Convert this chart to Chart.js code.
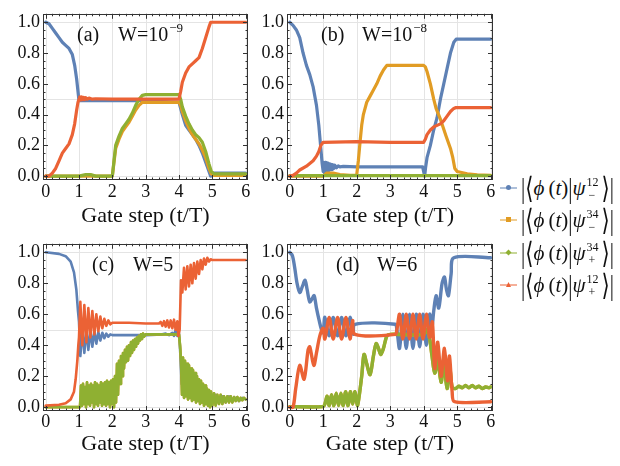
<!DOCTYPE html>
<html>
<head>
<meta charset="utf-8">
<script src="https://cdn.jsdelivr.net/npm/chart.js@4.4.1/dist/chart.umd.min.js"></script>
<style>
  body { margin: 0; background: #fff; width: 620px; height: 466px; overflow: hidden; position: relative;
         font-family: "Liberation Serif", "DejaVu Serif", serif; }
  canvas { position: absolute; }
  .entry { position: absolute; left: 498px; height: 30px; white-space: nowrap; font-size: 21px; color: #111; }
  .sample { position: absolute; left: 2px; top: 14px; width: 17px; height: 1.5px; opacity: 0.5; }
  .mark { position: absolute; width: 5px; height: 5px; left: 8px; top: 12px; }
  .txt { position: absolute; left: 23px; top: 0; line-height: 30px; }
  .dl { display: inline-block; transform: scaleY(1.4); }
  .ss { display: inline-block; position: relative; width: 16px; height: 20px; }
  .ss span { position: absolute; left: 1px; font-size: 12px; line-height: 12px; }
  .ss .u { top: 1px; }
  .ss .d { top: 14px; left: 3px; }
</style>
</head>
<body>
<canvas id="pa" width="255" height="230" style="left:0;top:0"></canvas>
<canvas id="pb" width="256" height="230" style="left:244px;top:0"></canvas>
<canvas id="pc" width="255" height="236" style="left:0;top:230px"></canvas>
<canvas id="pd" width="256" height="236" style="left:244px;top:230px"></canvas>
<div id="legend"></div>
<script>
const blue = "#5E81B5", orange = "#E19C24", green = "#8FB032", red = "#EB6235";
const serif = "'Liberation Serif', 'DejaVu Serif', serif";

const xTicks = [0, 1, 2, 3, 4, 5, 6];
const yTicks = [0, 0.2, 0.4, 0.6, 0.8, 1.0];
const xGrid = [0, 1, 2, 3, 4, 5, 6];
const yGrid = [0, 0.5, 1.0];
const xLabel = "Gate step (t/T)";

const panelTags = ["(a)", "(b)", "(c)", "(d)"];
const panelW = ["W=10", "W=10", "W=5", "W=6"];
const panelSup = ["\u22129", "\u22128", "", ""];

// ---- panel (a) W=1e-9
const aBlue = [[0,1.0],[0.1,0.99],[0.2,0.96],[0.3,0.93],[0.4,0.9],[0.5,0.87],[0.6,0.85],[0.7,0.83],[0.8,0.79],[0.87,0.72],[0.93,0.63],[0.97,0.55],[1.0,0.49],[1.5,0.49],[2.0,0.49],[3.0,0.49],[4.0,0.48],[4.1,0.4],[4.2,0.33],[4.3,0.3],[4.4,0.27],[4.5,0.24],[4.6,0.2],[4.7,0.15],[4.8,0.09],[4.9,0.03],[4.95,0.0],[5.0,0.02],[6.0,0.02]];
const aOrange = [[0,0.0],[2.0,0.0],[2.05,0.09],[2.1,0.18],[2.2,0.24],[2.3,0.29],[2.4,0.32],[2.5,0.35],[2.6,0.39],[2.7,0.43],[2.8,0.46],[2.9,0.48],[3.0,0.48],[4.0,0.48],[4.05,0.46],[4.1,0.42],[4.2,0.36],[4.3,0.31],[4.4,0.27],[4.5,0.24],[4.6,0.21],[4.7,0.17],[4.8,0.12],[4.9,0.05],[4.97,0.015],[5.05,0.005],[6.0,0.005]];
const aGreen = [[0,0.0],[1.0,0.0],[1.2,0.01],[1.35,0.01],[1.5,0.0],[2.0,0.0],[2.05,0.1],[2.1,0.2],[2.2,0.26],[2.3,0.31],[2.4,0.34],[2.5,0.37],[2.6,0.41],[2.7,0.46],[2.8,0.5],[2.9,0.525],[3.0,0.53],[4.0,0.53],[4.05,0.5],[4.1,0.45],[4.2,0.39],[4.3,0.34],[4.4,0.3],[4.5,0.27],[4.6,0.25],[4.7,0.22],[4.8,0.16],[4.9,0.08],[4.97,0.03],[5.05,0.015],[6.0,0.015]];
const aRed = [[0,0.0],[0.1,0.0],[0.2,0.02],[0.3,0.05],[0.4,0.1],[0.5,0.15],[0.6,0.18],[0.7,0.21],[0.8,0.27],[0.87,0.34],[0.93,0.43],[0.97,0.48],[1.0,0.5],[1.02,0.515],[1.05,0.495],[1.08,0.515],[1.11,0.497],[1.14,0.512],[1.17,0.498],[1.2,0.51],[1.25,0.5],[1.3,0.507],[1.4,0.5],[1.5,0.503],[2.0,0.5],[3.0,0.5],[4.0,0.5],[4.05,0.55],[4.1,0.61],[4.2,0.67],[4.3,0.71],[4.4,0.73],[4.5,0.75],[4.6,0.77],[4.7,0.83],[4.8,0.9],[4.9,0.97],[4.95,1.0],[6.0,1.0]];

// ---- panel (b) W=1e-8
const bBlue = [[0,1.0],[0.1,0.98],[0.2,0.95],[0.3,0.9],[0.4,0.8],[0.5,0.72],[0.6,0.66],[0.7,0.58],[0.8,0.46],[0.87,0.33],[0.93,0.18],[0.97,0.08],[1.0,0.03],[1.02,0.09],[1.04,0.02],[1.06,0.09],[1.08,0.025],[1.1,0.088],[1.12,0.03],[1.14,0.085],[1.16,0.035],[1.18,0.08],[1.2,0.04],[1.22,0.078],[1.24,0.042],[1.26,0.075],[1.28,0.045],[1.3,0.072],[1.32,0.05],[1.35,0.07],[1.4,0.055],[1.45,0.066],[1.5,0.06],[1.6,0.063],[2.0,0.06],[3.0,0.06],[3.97,0.06],[4.0,0.03],[4.03,0.0],[4.06,0.06],[4.1,0.12],[4.2,0.2],[4.3,0.3],[4.4,0.38],[4.5,0.5],[4.6,0.6],[4.7,0.7],[4.8,0.8],[4.9,0.87],[4.97,0.89],[6.0,0.89]];
const bOrange = [[0,0.0],[1.0,0.0],[1.1,0.02],[1.3,0.02],[1.5,0.01],[1.8,0.005],[2.0,0.005],[2.05,0.1],[2.1,0.22],[2.15,0.33],[2.2,0.4],[2.3,0.48],[2.4,0.52],[2.5,0.56],[2.6,0.6],[2.7,0.65],[2.8,0.69],[2.9,0.72],[3.0,0.72],[4.0,0.72],[4.05,0.71],[4.1,0.68],[4.2,0.6],[4.3,0.5],[4.37,0.44],[4.5,0.37],[4.67,0.26],[4.8,0.18],[4.87,0.12],[4.93,0.05],[5.0,0.03],[5.1,0.025],[5.3,0.015],[5.6,0.008],[6.0,0.005]];
const bGreen = [[0,0.003],[6.0,0.003]];
const bRed = [[0,0.0],[0.1,0.005],[0.2,0.02],[0.3,0.04],[0.5,0.065],[0.7,0.1],[0.8,0.13],[0.87,0.16],[0.93,0.2],[1.0,0.22],[2.0,0.225],[3.0,0.22],[4.0,0.22],[4.05,0.24],[4.1,0.27],[4.2,0.3],[4.3,0.32],[4.4,0.33],[4.5,0.34],[4.6,0.36],[4.7,0.39],[4.8,0.42],[4.9,0.44],[4.95,0.445],[6.0,0.445]];

// ---- panel (c) W=5
const cBlue = [[0,1.0],[0.4,0.99],[0.6,0.975],[0.75,0.94],[0.85,0.87],[0.92,0.76],[0.97,0.62],[1.0,0.55],[1.04,0.33],[1.1,0.5],[1.16,0.35],[1.22,0.5],[1.28,0.37],[1.34,0.495],[1.4,0.39],[1.46,0.49],[1.52,0.41],[1.58,0.485],[1.64,0.43],[1.7,0.48],[1.76,0.445],[1.82,0.475],[1.88,0.455],[1.94,0.47],[2.0,0.465],[3.0,0.465],[3.5,0.47],[3.6,0.475],[3.7,0.465],[3.8,0.48],[3.85,0.46],[3.9,0.5],[3.95,0.46],[3.98,0.52],[4.02,0.42],[4.05,0.3],[4.08,0.15],[4.11,0.28],[4.14,0.1],[4.17,0.26],[4.2,0.12],[4.23,0.25],[4.26,0.1],[4.29,0.22],[4.32,0.08],[4.35,0.2],[4.38,0.07],[4.41,0.18],[4.44,0.06],[4.47,0.16],[4.5,0.05],[4.55,0.14],[4.6,0.04],[4.65,0.12],[4.7,0.04],[4.75,0.11],[4.8,0.03],[4.85,0.1],[4.9,0.03],[4.95,0.09],[5.0,0.03],[5.1,0.08],[5.2,0.03],[5.3,0.07],[5.4,0.03],[5.5,0.07],[5.6,0.04],[5.7,0.06],[5.8,0.04],[5.9,0.06],[6.0,0.05]];
const cGreen = [[0,0.0],[1.0,0.0],[1.03,0.0],[1.06,0.14],[1.09,0.01],[1.12,0.15],[1.15,0.02],[1.18,0.13],[1.21,0.0],[1.24,0.16],[1.27,0.02],[1.3,0.14],[1.33,0.01],[1.36,0.15],[1.39,0.03],[1.42,0.14],[1.45,0.0],[1.48,0.16],[1.51,0.02],[1.54,0.15],[1.57,0.01],[1.6,0.14],[1.63,0.03],[1.66,0.16],[1.69,0.01],[1.72,0.15],[1.75,0.02],[1.78,0.16],[1.81,0.01],[1.84,0.17],[1.87,0.02],[1.9,0.16],[1.93,0.0],[1.96,0.17],[1.99,0.02],[2.02,0.18],[2.05,0.0],[2.08,0.2],[2.11,0.03],[2.14,0.28],[2.17,0.08],[2.2,0.3],[2.23,0.15],[2.26,0.33],[2.29,0.2],[2.32,0.35],[2.35,0.25],[2.38,0.37],[2.41,0.29],[2.44,0.39],[2.47,0.3],[2.5,0.4],[2.53,0.33],[2.56,0.42],[2.59,0.35],[2.62,0.43],[2.65,0.37],[2.68,0.44],[2.71,0.39],[2.74,0.45],[2.77,0.41],[2.8,0.46],[2.83,0.43],[2.86,0.47],[2.89,0.44],[2.92,0.475],[2.95,0.455],[3.0,0.47],[3.5,0.47],[4.0,0.47],[4.03,0.4],[4.06,0.3],[4.09,0.08],[4.12,0.32],[4.15,0.06],[4.18,0.3],[4.21,0.07],[4.24,0.28],[4.27,0.05],[4.3,0.27],[4.33,0.06],[4.36,0.25],[4.39,0.04],[4.42,0.24],[4.45,0.05],[4.48,0.22],[4.51,0.03],[4.54,0.2],[4.57,0.04],[4.6,0.18],[4.63,0.02],[4.66,0.17],[4.69,0.03],[4.72,0.15],[4.75,0.01],[4.78,0.14],[4.81,0.02],[4.84,0.12],[4.87,0.01],[4.9,0.11],[4.93,0.0],[4.96,0.1],[5.0,0.01],[5.05,0.09],[5.1,0.01],[5.15,0.08],[5.2,0.02],[5.25,0.08],[5.3,0.02],[5.35,0.07],[5.4,0.03],[5.45,0.07],[5.5,0.03],[5.55,0.07],[5.6,0.03],[5.65,0.065],[5.7,0.04],[5.75,0.065],[5.8,0.04],[5.85,0.06],[5.9,0.045],[5.95,0.06],[6.0,0.05]];
const cOrange = cGreen; // hidden under the green curve in the figure
const cRed = [[0,0.01],[0.4,0.015],[0.6,0.025],[0.75,0.05],[0.85,0.1],[0.9,0.18],[0.95,0.3],[0.98,0.4],[1.0,0.45],[1.04,0.68],[1.1,0.4],[1.16,0.66],[1.22,0.42],[1.28,0.64],[1.34,0.45],[1.4,0.62],[1.46,0.47],[1.52,0.6],[1.58,0.49],[1.64,0.585],[1.7,0.51],[1.76,0.57],[1.82,0.525],[1.88,0.56],[1.94,0.535],[2.0,0.545],[2.5,0.545],[3.0,0.54],[3.4,0.54],[3.45,0.55],[3.5,0.525],[3.55,0.555],[3.6,0.52],[3.65,0.56],[3.7,0.515],[3.75,0.56],[3.8,0.51],[3.85,0.565],[3.9,0.5],[3.95,0.555],[3.98,0.46],[4.02,0.5],[4.06,0.82],[4.1,0.74],[4.15,0.9],[4.2,0.76],[4.25,0.91],[4.3,0.78],[4.35,0.92],[4.4,0.8],[4.45,0.93],[4.5,0.83],[4.55,0.94],[4.6,0.86],[4.65,0.95],[4.7,0.89],[4.75,0.96],[4.8,0.92],[4.85,0.965],[4.9,0.94],[4.95,0.955],[5.0,0.95],[6.0,0.95]];

// ---- panel (d) W=6
const dBlue = [[0,1.0],[0.08,0.98],[0.15,0.9],[0.22,0.8],[0.3,0.74],[0.38,0.78],[0.46,0.82],[0.52,0.76],[0.6,0.68],[0.67,0.7],[0.73,0.72],[0.8,0.64],[0.88,0.56],[0.95,0.5],[1.0,0.48],[1.05,0.58],[1.18,0.46],[1.3,0.58],[1.43,0.46],[1.55,0.58],[1.68,0.46],[1.8,0.58],[1.9,0.47],[1.95,0.535],[3.15,0.535],[3.2,0.5],[3.28,0.38],[3.38,0.6],[3.48,0.38],[3.58,0.6],[3.68,0.38],[3.78,0.6],[3.88,0.39],[3.98,0.6],[4.08,0.4],[4.18,0.6],[4.24,0.5],[4.3,0.62],[4.37,0.72],[4.45,0.64],[4.55,0.8],[4.62,0.84],[4.68,0.76],[4.74,0.72],[4.82,0.86],[4.9,0.965],[6.0,0.965]];
const dGreen = [[0,0.003],[1.0,0.003],[1.05,0.02],[1.12,0.07],[1.18,0.01],[1.25,0.08],[1.32,0.01],[1.39,0.09],[1.46,0.01],[1.53,0.09],[1.6,0.01],[1.67,0.1],[1.74,0.01],[1.81,0.1],[1.88,0.02],[1.95,0.1],[2.02,0.01],[2.08,0.08],[2.15,0.2],[2.22,0.34],[2.3,0.28],[2.4,0.21],[2.5,0.33],[2.58,0.41],[2.65,0.38],[2.72,0.34],[2.8,0.38],[2.9,0.46],[3.0,0.47],[4.0,0.47],[4.1,0.5],[4.18,0.44],[4.25,0.33],[4.33,0.22],[4.42,0.3],[4.52,0.16],[4.6,0.28],[4.7,0.12],[4.78,0.25],[4.85,0.13],[4.95,0.12],[5.05,0.135],[5.15,0.125],[5.25,0.14],[5.35,0.125],[5.45,0.14],[5.55,0.125],[5.65,0.135],[5.75,0.12],[5.85,0.13],[5.95,0.125],[6.0,0.13]];
const dOrange = dGreen; // hidden under the green curve in the figure
const dRed = [[0,0.0],[0.1,0.0],[0.18,0.12],[0.3,0.27],[0.43,0.18],[0.55,0.37],[0.6,0.39],[0.72,0.27],[0.8,0.35],[0.9,0.46],[1.0,0.51],[1.05,0.44],[1.18,0.58],[1.3,0.44],[1.43,0.58],[1.55,0.44],[1.68,0.58],[1.8,0.44],[1.88,0.56],[1.95,0.47],[3.15,0.47],[3.2,0.5],[3.28,0.6],[3.38,0.44],[3.48,0.6],[3.58,0.44],[3.68,0.6],[3.78,0.44],[3.88,0.6],[3.98,0.44],[4.08,0.6],[4.18,0.45],[4.26,0.55],[4.33,0.25],[4.42,0.42],[4.52,0.2],[4.62,0.38],[4.71,0.17],[4.77,0.33],[4.85,0.1],[4.92,0.035],[6.0,0.035]];

// legend
const legendSup = ["12", "34", "34", "12"];
const legendSub = ["\u2212", "\u2212", "+", "+"];
const legendColors = [blue, orange, green, red];
const legendShapes = ["circle", "square", "diamond", "triangle"];
const legendTops = [173, 205, 238, 270];

const framePlugin = {
  id: "frame",
  beforeDatasetsDraw(chart) {
    const { ctx, chartArea: a, scales: { x, y } } = chart;
    ctx.save();
    ctx.strokeStyle = "#e4e4e4";
    ctx.lineWidth = 1;
    ctx.beginPath();
    xGrid.forEach(v => {
      const p = Math.round(x.getPixelForValue(v)) + 0.5;
      ctx.moveTo(p, a.top); ctx.lineTo(p, a.bottom);
    });
    yGrid.forEach(v => {
      const p = Math.round(y.getPixelForValue(v)) + 0.5;
      ctx.moveTo(a.left, p); ctx.lineTo(a.right, p);
    });
    ctx.stroke();
    ctx.restore();
  },
  afterDatasetsDraw(chart, args, opts) {
    const { ctx, chartArea: a, scales: { x, y } } = chart;
    ctx.save();
    ctx.strokeStyle = "#333";
    ctx.lineWidth = 1;
    ctx.strokeRect(Math.round(a.left) + 0.5, Math.round(a.top) + 0.5,
                   Math.round(a.right - a.left) - 1, Math.round(a.bottom - a.top) - 1);
    ctx.beginPath();
    for (let i = 0; i <= 30; i++) {
      const v = i * 0.2, len = i % 5 === 0 ? 5 : 2.5;
      const p = Math.round(x.getPixelForValue(v)) + 0.5;
      ctx.moveTo(p, a.bottom); ctx.lineTo(p, a.bottom - len);
      ctx.moveTo(p, a.top); ctx.lineTo(p, a.top + len);
    }
    for (let i = 0; i <= 20; i++) {
      const v = i * 0.05, len = i % 4 === 0 ? 5 : 2.5;
      const p = Math.round(y.getPixelForValue(v)) + 0.5;
      ctx.moveTo(a.left, p); ctx.lineTo(a.left + len, p);
      ctx.moveTo(a.right, p); ctx.lineTo(a.right - len, p);
    }
    ctx.stroke();
    // panel label
    ctx.fillStyle = "#111";
    ctx.textBaseline = "alphabetic";
    ctx.font = "20px " + serif;
    const bx = a.left + opts.offset, by = a.top + 27;
    ctx.fillText(opts.tag, bx, by);
    ctx.fillText(opts.w, bx + 41, by);
    if (opts.sup) {
      const w = ctx.measureText(opts.w).width;
      ctx.font = "13px " + serif;
      ctx.fillText(opts.sup, bx + 41 + w + 1, by - 9);
    }
    ctx.restore();
  }
};

function series(data, color, order, width, smooth) {
  return {
    data: data.map(p => ({ x: p[0], y: p[1] })),
    borderColor: color,
    backgroundColor: color,
    borderWidth: width,
    borderJoinStyle: "round",
    borderCapStyle: "round",
    pointRadius: 0,
    tension: smooth ? 0.3 : 0,
    order: order
  };
}

function makePanel(id, sets, idx, offset, xHeight, tickPad, titleBottom, width, smooth) {
  const datasets = sets.map(s => series(s[0], s[1], s[2], width, smooth));
  new Chart(document.getElementById(id), {
    type: "line",
    data: { datasets },
    plugins: [framePlugin],
    options: {
      responsive: false,
      animation: false,
      layout: { padding: { top: 4, right: 7, left: 0, bottom: 0 } },
      plugins: {
        legend: { display: false },
        tooltip: { enabled: false },
        frame: { tag: panelTags[idx], w: panelW[idx], sup: panelSup[idx], offset: offset }
      },
      scales: {
        x: {
          type: "linear", min: -0.08, max: 6.07,
          grid: { display: false, drawTicks: false }, border: { display: false },
          afterBuildTicks: s => { s.ticks = xTicks.map(v => ({ value: v })); },
          afterFit: s => { s.height = xHeight; },
          ticks: { font: { family: serif, size: 18 }, color: "#111", padding: tickPad, maxRotation: 0, autoSkip: false,
                   callback: v => String(v) },
          title: { display: true, text: xLabel, font: { family: serif, size: 22 }, color: "#111",
                   padding: { top: 0, bottom: titleBottom } }
        },
        y: {
          min: -0.025, max: 1.055,
          grid: { display: false, drawTicks: false }, border: { display: false },
          afterBuildTicks: s => { s.ticks = yTicks.map(v => ({ value: v })); },
          afterFit: s => { s.width = 43; },
          ticks: { font: { family: serif, size: 18 }, color: "#111", padding: 3,
                   callback: v => v.toFixed(1) }
        }
      }
    }
  });
}

makePanel("pa", [[aBlue, blue, 4], [aOrange, orange, 3], [aGreen, green, 2], [aRed, red, 1]], 0, 34, 50, 1, 1, 3.2, false);
makePanel("pb", [[bBlue, blue, 4], [bOrange, orange, 3], [bGreen, green, 2], [bRed, red, 1]], 1, 34, 50, 1, 1, 3.2, false);
makePanel("pc", [[cBlue, blue, 4], [cOrange, orange, 3], [cGreen, green, 2], [cRed, red, 1]], 2, 49, 55, 0, 9, 2.6, false);
makePanel("pd", [[dBlue, blue, 4], [dOrange, orange, 3], [dGreen, green, 2], [dRed, red, 1]], 3, 49, 55, 0, 9, 3.4, true);

// legend entries
const legend = document.getElementById("legend");
legendColors.forEach((c, i) => {
  const e = document.createElement("div");
  e.className = "entry";
  e.style.top = legendTops[i] + "px";
  const sample = document.createElement("div");
  sample.className = "sample";
  sample.style.background = c;
  const mark = document.createElement("div");
  mark.className = "mark";
  mark.style.background = c;
  if (legendShapes[i] === "circle") mark.style.borderRadius = "50%";
  if (legendShapes[i] === "diamond") mark.style.transform = "rotate(45deg) scale(0.85)";
  if (legendShapes[i] === "triangle") mark.style.clipPath = "polygon(50% 0, 100% 100%, 0 100%)";
  const t = document.createElement("div");
  t.className = "txt";
  t.innerHTML = '<span class="dl">|</span><span class="dl">\u27E8</span><i>\u03D5</i>\u2009(<i>t</i>)<span class="dl">|</span><i>\u03C8</i>' +
    '<span class="ss"><span class="u">' + legendSup[i] + '</span><span class="d">' + legendSub[i] + '</span></span>' +
    '<span class="dl">\u27E9</span><span class="dl">|</span>';
  e.appendChild(sample); e.appendChild(mark); e.appendChild(t);
  legend.appendChild(e);
});
</script>
</body>
</html>
